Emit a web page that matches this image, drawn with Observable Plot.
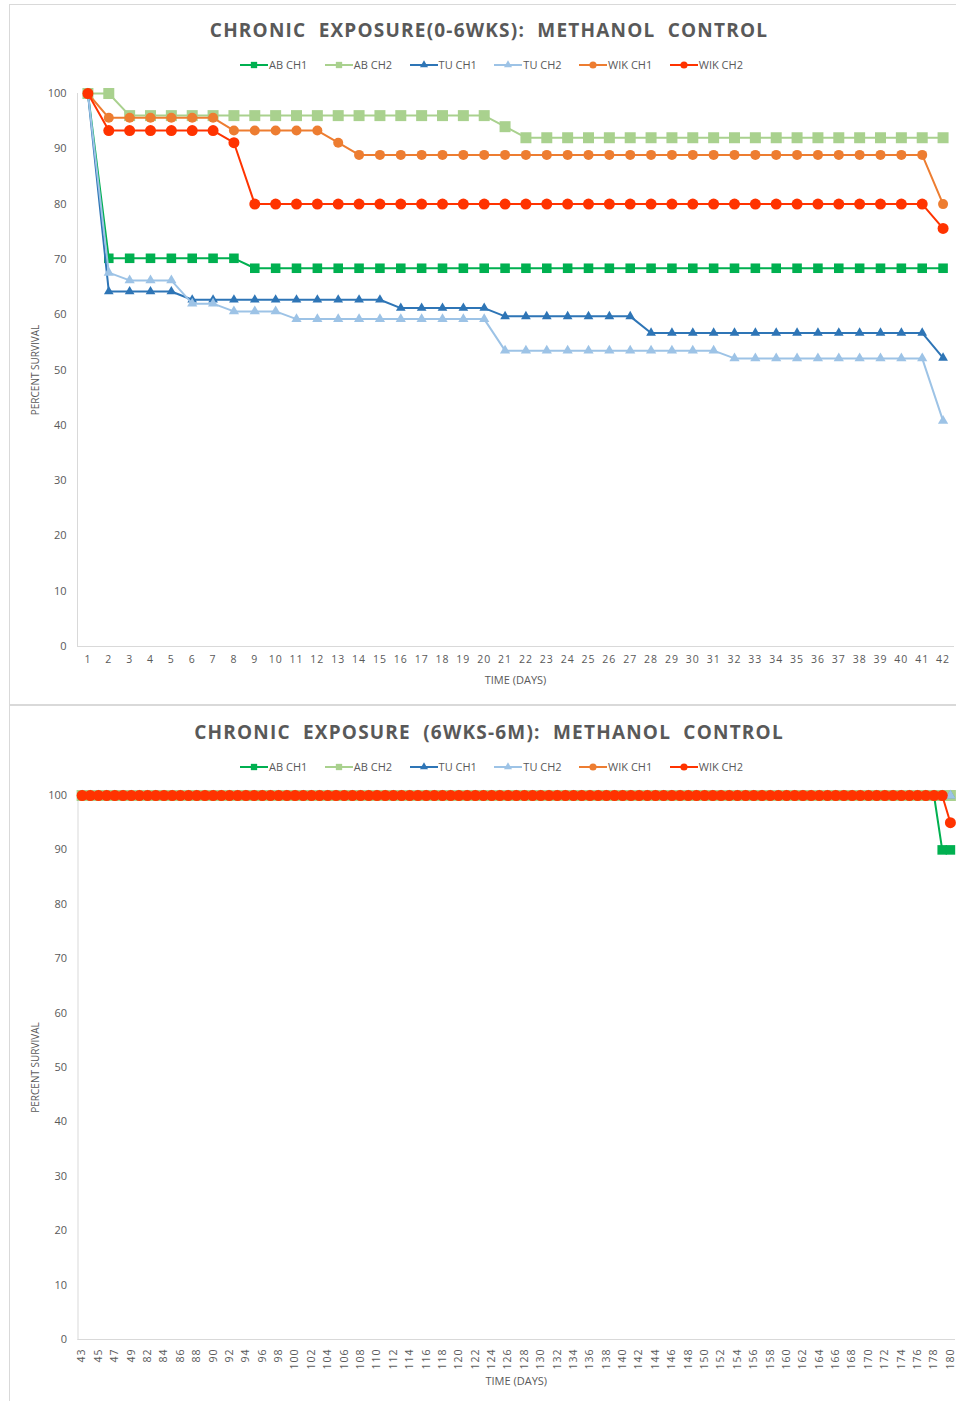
<!DOCTYPE html>
<html>
<head>
<meta charset="utf-8">
<script src="https://cdn.jsdelivr.net/npm/d3@7"></script>
<script src="https://cdn.jsdelivr.net/npm/@observablehq/plot@0.6"></script>
<style>
  html, body { margin: 0; padding: 0; background: #fff; }
  body { width: 956px; height: 1401px; overflow: hidden; position: relative; font-family: "Open Sans", sans-serif; }
  .panel { position: absolute; left: 9px; width: 980px; border: 1px solid #d9d9d9; box-sizing: border-box; }
  .title { position: absolute; left: 0; width: 978px; text-align: center; font-weight: 700; font-size: 19px; line-height: 24px; color: #595959; letter-spacing: 1.2px; word-spacing: 0px; white-space: pre; }
  .legend { position: absolute; left: 0; width: 983px; display: flex; justify-content: center; gap: 17.5px; font-size: 11px; line-height: 16px; color: #595959; }
  .legend .item { display: flex; align-items: center; }
  .legend svg { margin-right: 1px; }
  .chart { position: absolute; left: 0; }
  .chart g[aria-label="x-axis tick label"] text { letter-spacing: 1px; }
</style>
</head>
<body>
<div class="panel" style="top:4px;height:701px;"></div>
<div class="panel" style="top:705px;height:700px;"></div>
<div class="title" style="top:18px;">CHRONIC  EXPOSURE(0-6WKS):  METHANOL  CONTROL</div>
<div class="legend" id="legend1" style="top:57px;"></div>
<div class="chart" id="chart1" style="top:80px;"></div>
<div class="title" style="top:720px;">CHRONIC  EXPOSURE  (6WKS-6M):  METHANOL  CONTROL</div>
<div class="legend" id="legend2" style="top:759px;"></div>
<div class="chart" id="chart2" style="top:782px;"></div>
<script>
// ---------- data ----------
const seriesNames = ["AB CH1", "AB CH2", "TU CH1", "TU CH2", "WIK CH1", "WIK CH2"];
const seriesColors = ["#00B050", "#A9D18E", "#2E75B6", "#9DC3E6", "#ED7D31", "#FF3300"];
const seriesSymbols = ["square", "square", "triangle", "triangle", "circle", "circle"];
const yTicks = [0, 10, 20, 30, 40, 50, 60, 70, 80, 90, 100];

// Chart 1: days 1-42
const days1 = [1,2,3,4,5,6,7,8,9,10,11,12,13,14,15,16,17,18,19,20,21,22,23,24,25,26,27,28,29,30,31,32,33,34,35,36,37,38,39,40,41,42];
const abCh1_1 = [100,70.2,70.2,70.2,70.2,70.2,70.2,70.2,68.4,68.4,68.4,68.4,68.4,68.4,68.4,68.4,68.4,68.4,68.4,68.4,68.4,68.4,68.4,68.4,68.4,68.4,68.4,68.4,68.4,68.4,68.4,68.4,68.4,68.4,68.4,68.4,68.4,68.4,68.4,68.4,68.4,68.4];
const abCh2_1 = [100,100,96,96,96,96,96,96,96,96,96,96,96,96,96,96,96,96,96,96,94,92,92,92,92,92,92,92,92,92,92,92,92,92,92,92,92,92,92,92,92,92];
const tuCh1_1 = [100,64.2,64.2,64.2,64.2,62.7,62.7,62.7,62.7,62.7,62.7,62.7,62.7,62.7,62.7,61.2,61.2,61.2,61.2,61.2,59.7,59.7,59.7,59.7,59.7,59.7,59.7,56.7,56.7,56.7,56.7,56.7,56.7,56.7,56.7,56.7,56.7,56.7,56.7,56.7,56.7,52.2];
const tuCh2_1 = [100,67.6,66.2,66.2,66.2,62.0,62.0,60.6,60.6,60.6,59.2,59.2,59.2,59.2,59.2,59.2,59.2,59.2,59.2,59.2,53.5,53.5,53.5,53.5,53.5,53.5,53.5,53.5,53.5,53.5,53.5,52.1,52.1,52.1,52.1,52.1,52.1,52.1,52.1,52.1,52.1,40.8];
const wikCh1_1 = [100,95.6,95.6,95.6,95.6,95.6,95.6,93.3,93.3,93.3,93.3,93.3,91.1,88.9,88.9,88.9,88.9,88.9,88.9,88.9,88.9,88.9,88.9,88.9,88.9,88.9,88.9,88.9,88.9,88.9,88.9,88.9,88.9,88.9,88.9,88.9,88.9,88.9,88.9,88.9,88.9,80];
const wikCh2_1 = [100,93.3,93.3,93.3,93.3,93.3,93.3,91.1,80,80,80,80,80,80,80,80,80,80,80,80,80,80,80,80,80,80,80,80,80,80,80,80,80,80,80,80,80,80,80,80,80,75.6];

// Chart 2: days 43-180
const days2 = [43,44,45,46,47,48,49,50,
  82,83,84,85,86,87,88,89,90,91,92,93,94,95,96,97,98,99,100,101,102,103,104,105,106,107,108,109,110,111,112,113,114,115,116,117,118,119,120,121,122,123,124,125,126,127,128,129,130,131,132,133,134,135,136,137,138,139,140,141,142,143,144,145,146,147,148,149,150,151,152,153,154,155,156,157,158,159,160,161,162,163,164,165,166,167,168,169,170,171,172,173,174,175,176,177,178,179,180];
const days2TickLabels = [43,45,47,49,82,84,86,88,90,92,94,96,98,100,102,104,106,108,110,112,114,116,118,120,122,124,126,128,130,132,134,136,138,140,142,144,146,148,150,152,154,156,158,160,162,164,166,168,170,172,174,176,178,180];
const abCh1_2 = [100,100,100,100,100,100,100,100,100,100,
  100,100,100,100,100,100,100,100,100,100,
  100,100,100,100,100,100,100,100,100,100,
  100,100,100,100,100,100,100,100,100,100,
  100,100,100,100,100,100,100,100,100,100,
  100,100,100,100,100,100,100,100,100,100,
  100,100,100,100,100,100,100,100,100,100,
  100,100,100,100,100,100,100,100,100,100,
  100,100,100,100,100,100,100,100,100,100,
  100,100,100,100,100,100,100,100,100,100,
  100,100,100,100,100,90,90];
const abCh2_2 = [100,100,100,100,100,100,100,100,100,100,
  100,100,100,100,100,100,100,100,100,100,
  100,100,100,100,100,100,100,100,100,100,
  100,100,100,100,100,100,100,100,100,100,
  100,100,100,100,100,100,100,100,100,100,
  100,100,100,100,100,100,100,100,100,100,
  100,100,100,100,100,100,100,100,100,100,
  100,100,100,100,100,100,100,100,100,100,
  100,100,100,100,100,100,100,100,100,100,
  100,100,100,100,100,100,100,100,100,100,
  100,100,100,100,100,100,100];
const tuCh1_2 = [100,100,100,100,100,100,100,100,100,100,
  100,100,100,100,100,100,100,100,100,100,
  100,100,100,100,100,100,100,100,100,100,
  100,100,100,100,100,100,100,100,100,100,
  100,100,100,100,100,100,100,100,100,100,
  100,100,100,100,100,100,100,100,100,100,
  100,100,100,100,100,100,100,100,100,100,
  100,100,100,100,100,100,100,100,100,100,
  100,100,100,100,100,100,100,100,100,100,
  100,100,100,100,100,100,100,100,100,100,
  100,100,100,100,100,100,100];
const tuCh2_2 = [100,100,100,100,100,100,100,100,100,100,
  100,100,100,100,100,100,100,100,100,100,
  100,100,100,100,100,100,100,100,100,100,
  100,100,100,100,100,100,100,100,100,100,
  100,100,100,100,100,100,100,100,100,100,
  100,100,100,100,100,100,100,100,100,100,
  100,100,100,100,100,100,100,100,100,100,
  100,100,100,100,100,100,100,100,100,100,
  100,100,100,100,100,100,100,100,100,100,
  100,100,100,100,100,100,100,100,100,100,
  100,100,100,100,100,100,100];
const wikCh1_2 = [100,100,100,100,100,100,100,100,100,100,
  100,100,100,100,100,100,100,100,100,100,
  100,100,100,100,100,100,100,100,100,100,
  100,100,100,100,100,100,100,100,100,100,
  100,100,100,100,100,100,100,100,100,100,
  100,100,100,100,100,100,100,100,100,100,
  100,100,100,100,100,100,100,100,100,100,
  100,100,100,100,100,100,100,100,100,100,
  100,100,100,100,100,100,100,100,100,100,
  100,100,100,100,100,100,100,100,100,100,
  100,100,100,100,100,100,null];
const wikCh2_2 = [100,100,100,100,100,100,100,100,100,100,
  100,100,100,100,100,100,100,100,100,100,
  100,100,100,100,100,100,100,100,100,100,
  100,100,100,100,100,100,100,100,100,100,
  100,100,100,100,100,100,100,100,100,100,
  100,100,100,100,100,100,100,100,100,100,
  100,100,100,100,100,100,100,100,100,100,
  100,100,100,100,100,100,100,100,100,100,
  100,100,100,100,100,100,100,100,100,100,
  100,100,100,100,100,100,100,100,100,100,
  100,100,100,100,100,100,95];

// ---------- styling ----------
const axisGray = "#d9d9d9";
const textGray = "#595959";
const markerR = [5.4, 6.2, 3.6, 3.8, 5, 5.5];

function buildLegend(id) {
  const el = document.getElementById(id);
  seriesNames.forEach((name, i) => {
    const item = document.createElement("div");
    item.className = "item";
    const s = d3.create("svg").attr("width", 28).attr("height", 12);
    s.append("line").attr("x1", 0).attr("x2", 28).attr("y1", 6).attr("y2", 6)
      .attr("stroke", seriesColors[i]).attr("stroke-width", 2);
    const sym = { square: d3.symbolSquare, triangle: d3.symbolTriangle, circle: d3.symbolCircle }[seriesSymbols[i]];
    s.append("path").attr("transform", "translate(14,6)")
      .attr("d", d3.symbol(sym, seriesSymbols[i] === "triangle" ? 28 : 40)())
      .attr("fill", seriesColors[i]);
    item.appendChild(s.node());
    const t = document.createElement("span");
    t.textContent = name;
    item.appendChild(t);
    el.appendChild(item);
  });
}

function buildChart(cfg) {
  const marks = [
    Plot.frame({ anchor: "left", stroke: axisGray }),
    Plot.frame({ anchor: "bottom", stroke: axisGray })
  ];
  cfg.values.forEach((vals, i) => {
    const rows = cfg.days.map((d, j) => ({ day: d, value: vals[j] })).filter(r => r.value != null);
    marks.push(Plot.line(rows, { x: "day", y: "value", stroke: seriesColors[i], strokeWidth: 2 }));
    marks.push(Plot.dot(rows, { x: "day", y: "value", fill: seriesColors[i], symbol: seriesSymbols[i], r: markerR[i] }));
  });
  marks.push(Plot.axisY({ ticks: yTicks, tickSize: 0, tickPadding: 11, fontSize: 11, label: null }));
  marks.push(Plot.axisX(Object.assign({ ticks: cfg.ticks, tickSize: 0, fontSize: 10.5, label: null }, cfg.xAxis)));
  marks.push(Plot.text(["PERCENT SURVIVAL"], { frameAnchor: "left", dx: -42, rotate: -90, textAnchor: "middle", lineAnchor: "middle", fontSize: 10, fill: textGray }));
  marks.push(Plot.text(["TIME (DAYS)"], { frameAnchor: "bottom", dy: cfg.xLabelDy, textAnchor: "middle", lineAnchor: "middle", fontSize: 11, fill: textGray }));
  const chart = Plot.plot({
    width: 956,
    height: cfg.height,
    marginTop: 13,
    marginBottom: cfg.marginBottom,
    marginLeft: cfg.marginLeft,
    marginRight: cfg.marginRight,
    style: { color: textGray, fontFamily: "Open Sans, sans-serif", background: "transparent" },
    x: { type: "point", domain: cfg.days, padding: 0.5, round: false },
    y: { domain: [0, 100] },
    marks
  });
  document.getElementById(cfg.id).appendChild(chart);
}

buildLegend("legend1");
buildLegend("legend2");

buildChart({
  id: "chart1", days: days1, ticks: days1, height: 622, marginBottom: 56,
  marginLeft: 77, marginRight: 3, xLabelDy: 34,
  xAxis: { tickPadding: 9 },
  values: [abCh1_1, abCh2_1, tuCh1_1, tuCh2_1, wikCh1_1, wikCh2_1]
});
buildChart({
  id: "chart2", days: days2, ticks: days2TickLabels, height: 619, marginBottom: 62,
  marginLeft: 77.5, marginRight: 2, xLabelDy: 42,
  xAxis: { tickPadding: 9, tickRotate: -90, textAnchor: "end" },
  values: [abCh1_2, abCh2_2, tuCh1_2, tuCh2_2, wikCh1_2, wikCh2_2]
});
</script>
</body>
</html>
